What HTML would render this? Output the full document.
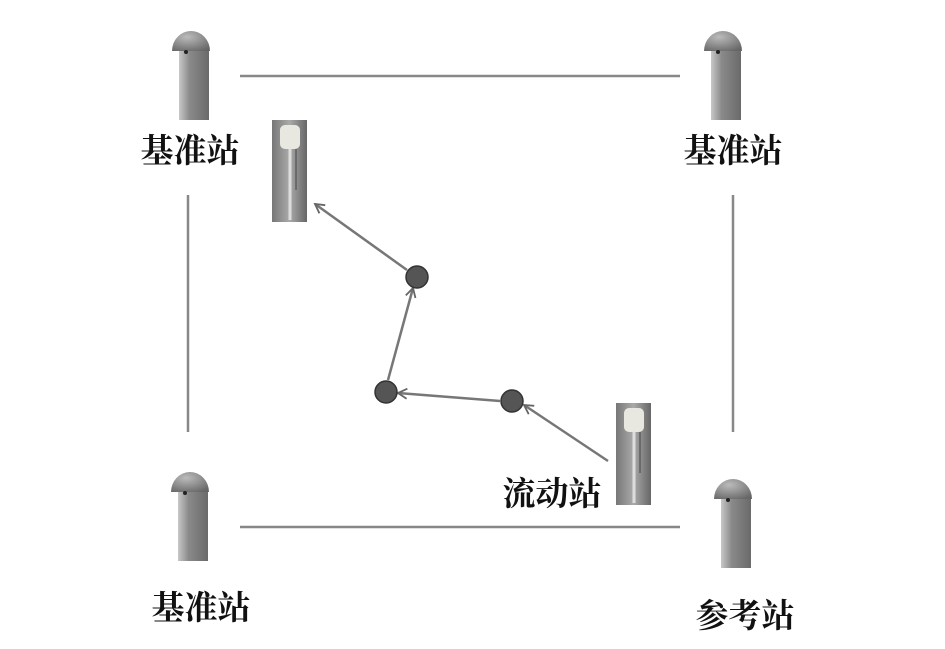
<!DOCTYPE html>
<html><head><meta charset="utf-8"><style>
html,body{margin:0;padding:0;background:#fff;}
svg{display:block;}
text{font-family:"Liberation Serif","Noto Serif CJK SC",serif;font-weight:bold;font-size:33px;fill:#111;}
</style></head><body>
<svg width="945" height="649" viewBox="0 0 945 649" xmlns="http://www.w3.org/2000/svg">
<defs>
<linearGradient id="pg" x1="0" x2="1" y1="0" y2="0">
<stop offset="0" stop-color="#c8c8c8"/><stop offset="0.35" stop-color="#8a8a8a"/><stop offset="1" stop-color="#6a6a6a"/>
</linearGradient>
<radialGradient id="dg" cx="0.4" cy="0.3" r="0.8">
<stop offset="0" stop-color="#bbb"/><stop offset="1" stop-color="#666"/>
</radialGradient>
<linearGradient id="rg" x1="0" x2="1"><stop offset="0" stop-color="#777"/><stop offset="0.5" stop-color="#aaa"/><stop offset="1" stop-color="#666"/></linearGradient>
<g id="st">
<rect x="6" y="20" width="30" height="70" fill="url(#pg)"/>
<path d="M-1 21 A19 20 0 0 1 37 21 Z" fill="url(#dg)"/>
<circle cx="13" cy="22" r="2" fill="#222"/>
</g>
<g id="rv">
<rect x="0" y="0" width="35" height="102" fill="url(#rg)"/>
<rect x="8" y="5" width="20" height="24" rx="5" fill="#e8e8e0"/>
<line x1="18" y1="29" x2="18" y2="100" stroke="#ddd" stroke-width="3"/>
<line x1="24" y1="29" x2="24" y2="70" stroke="#444" stroke-width="1"/>
</g>
<marker id="ah" markerWidth="12" markerHeight="12" refX="10" refY="6" orient="auto" markerUnits="userSpaceOnUse">
<path d="M1 1 L10 6 L1 11" fill="none" stroke="#666" stroke-width="1.8"/>
</marker>
</defs>
<g stroke="#888" stroke-width="2.5">
<line x1="240" y1="76" x2="680" y2="76"/>
<line x1="240" y1="527" x2="680" y2="527"/>
<line x1="188" y1="195" x2="188" y2="432"/>
<line x1="733" y1="195" x2="733" y2="432"/>
</g>
<use href="#st" x="173" y="30"/>
<use href="#st" x="705" y="30"/>
<use href="#st" x="172" y="471"/>
<use href="#st" x="715" y="478"/>
<use href="#rv" x="272" y="120"/>
<use href="#rv" x="616" y="403"/>
<g stroke="#777" stroke-width="2.5" fill="none" marker-end="url(#ah)">
<line x1="608" y1="461" x2="524" y2="405"/>
<line x1="500" y1="401" x2="398" y2="393"/>
<line x1="388" y1="380" x2="413" y2="288"/>
<line x1="407" y1="270" x2="315" y2="204"/>
</g>
<g fill="#555" stroke="#333" stroke-width="1.5">
<circle cx="417" cy="277" r="11"/>
<circle cx="386" cy="392" r="11"/>
<circle cx="512" cy="401" r="11"/>
</g>
<text x="190" y="162" text-anchor="middle">基准站</text>
<text x="733" y="162" text-anchor="middle">基准站</text>
<text x="201" y="619" text-anchor="middle">基准站</text>
<text x="745" y="627" text-anchor="middle">参考站</text>
<text x="552" y="505" text-anchor="middle">流动站</text>
</svg>
</body></html>
